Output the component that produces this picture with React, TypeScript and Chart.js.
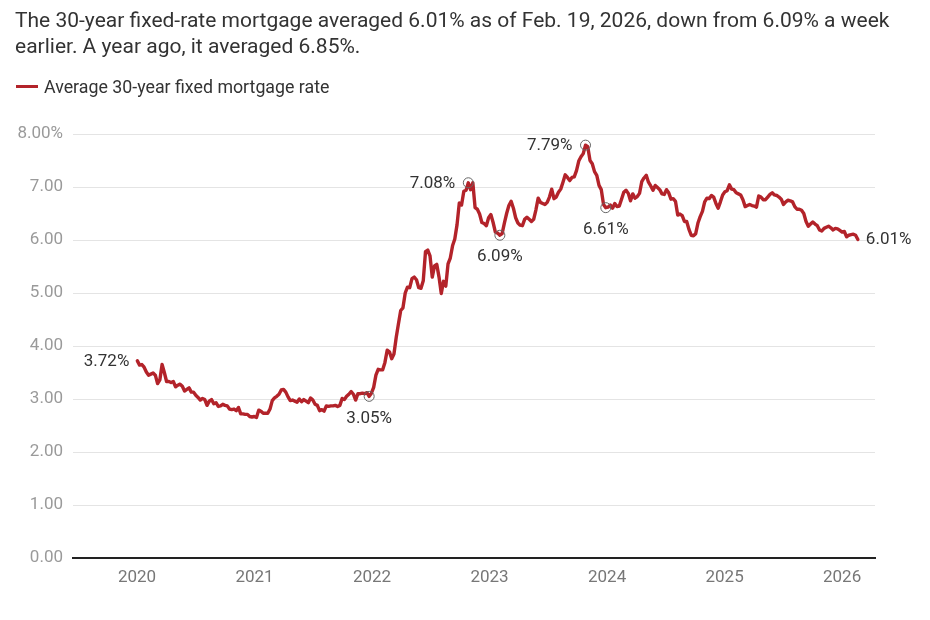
import React, { useEffect, useRef } from "react";
import { Chart, registerables } from "chart.js";

Chart.register(...registerables);

const TITLE_LINES = [
  "The 30-year fixed-rate mortgage averaged 6.01% as of Feb. 19, 2026, down from 6.09% a week",
  "earlier. A year ago, it averaged 6.85%.",
];
const SERIES_LABEL = "Average 30-year fixed mortgage rate";

// Weekly readings (Thursdays), first week = Jan 2, 2020
const FIRST_WEEK = "2020-01-02";
const RATES_2020 = [
  3.72, 3.64, 3.65, 3.6, 3.51, 3.45, 3.47, 3.49, 3.45, 3.29, 3.36, 3.65, 3.5,
  3.33, 3.33, 3.31, 3.33, 3.23, 3.26, 3.28, 3.24, 3.15, 3.18, 3.21, 3.13, 3.13,
  3.07, 3.03, 2.98, 3.01, 2.99, 2.88, 2.96, 2.99, 2.91, 2.93, 2.86, 2.87, 2.9,
  2.88, 2.87, 2.81, 2.8, 2.81, 2.78, 2.84, 2.72, 2.72, 2.71, 2.71, 2.67, 2.66, 2.67,
];
const RATES_2021 = [
  2.65, 2.79, 2.77, 2.73, 2.73, 2.73, 2.81, 2.97, 3.02, 3.05, 3.09, 3.17, 3.18,
  3.13, 3.04, 2.97, 2.98, 2.96, 2.94, 3.0, 2.95, 2.99, 2.96, 2.93, 3.02, 2.98,
  2.9, 2.88, 2.78, 2.8, 2.77, 2.87, 2.86, 2.87, 2.87, 2.88, 2.86, 2.88, 3.01,
  2.99, 3.05, 3.09, 3.14, 3.09, 2.98, 3.1, 3.1, 3.11, 3.1, 3.12, 3.05, 3.11,
];
const RATES_2022 = [
  3.22, 3.45, 3.56, 3.55, 3.55, 3.69, 3.92, 3.89, 3.76, 3.85, 4.16, 4.42, 4.67,
  4.72, 5.0, 5.11, 5.1, 5.27, 5.3, 5.25, 5.1, 5.09, 5.23, 5.78, 5.81, 5.7,
  5.3, 5.51, 5.54, 5.3, 4.99, 5.22, 5.13, 5.55, 5.66, 5.89, 6.02, 6.29, 6.7,
  6.66, 6.92, 6.94, 7.08, 6.95, 7.08, 6.61, 6.58, 6.49, 6.33, 6.31, 6.27, 6.42,
];
const RATES_2023 = [
  6.48, 6.33, 6.15, 6.13, 6.09, 6.12, 6.32, 6.5, 6.65, 6.73, 6.6, 6.42, 6.32,
  6.28, 6.27, 6.39, 6.43, 6.39, 6.35, 6.39, 6.57, 6.79, 6.71, 6.69, 6.67, 6.71,
  6.81, 6.96, 6.78, 6.81, 6.9, 6.96, 7.09, 7.23, 7.18, 7.12, 7.18, 7.19, 7.31,
  7.49, 7.57, 7.63, 7.79, 7.76, 7.5, 7.44, 7.29, 7.22, 7.03, 6.95, 6.67, 6.61,
];
const RATES_2024 = [
  6.62, 6.66, 6.6, 6.69, 6.63, 6.64, 6.77, 6.9, 6.94, 6.88, 6.74, 6.87, 6.79,
  6.82, 6.88, 7.1, 7.17, 7.22, 7.09, 7.02, 6.94, 7.03, 6.99, 6.95, 6.87, 6.86,
  6.95, 6.89, 6.77, 6.78, 6.73, 6.47, 6.49, 6.46, 6.35, 6.35, 6.2, 6.09, 6.08,
  6.12, 6.32, 6.44, 6.54, 6.72, 6.79, 6.78, 6.84, 6.81, 6.69, 6.6, 6.72, 6.85,
];
const RATES_2025 = [
  6.91, 6.93, 7.04, 6.96, 6.95, 6.89, 6.87, 6.85, 6.76, 6.63, 6.65, 6.67, 6.65,
  6.64, 6.62, 6.83, 6.81, 6.76, 6.76, 6.81, 6.86, 6.89, 6.85, 6.84, 6.81, 6.77,
  6.67, 6.72, 6.75, 6.74, 6.72, 6.63, 6.58, 6.58, 6.56, 6.5, 6.35, 6.26, 6.3,
  6.34, 6.3, 6.27, 6.19, 6.17, 6.22, 6.24, 6.26, 6.23, 6.19, 6.22, 6.21, 6.18,
];
const RATES_2026 = [6.15, 6.16, 6.06, 6.09, 6.1, 6.11, 6.09, 6.01];

const YEAR_TICKS = [2020, 2021, 2022, 2023, 2024, 2025, 2026];
const Y_TICKS = [0, 1, 2, 3, 4, 5, 6, 7, 8];

const ANNOTATIONS = [
  { date: "2020-01-02", text: "3.72%", place: "left", circle: false },
  { date: "2021-12-23", text: "3.05%", place: "below", circle: true },
  { date: "2022-10-27", text: "7.08%", place: "left", circle: true },
  { date: "2023-02-02", text: "6.09%", place: "below", circle: true },
  { date: "2023-10-26", text: "7.79%", place: "left", circle: true },
  { date: "2023-12-28", text: "6.61%", place: "below", circle: true },
  { date: "2026-02-19", text: "6.01%", place: "right", circle: false },
];

const LINE_COLOR = "#b3232a";
const FONT = "Roboto, 'Noto Sans', sans-serif";

function buildSeries() {
  const rates = [
    ...RATES_2020,
    ...RATES_2021,
    ...RATES_2022,
    ...RATES_2023,
    ...RATES_2024,
    ...RATES_2025,
    ...RATES_2026,
  ];
  const start = Date.parse(FIRST_WEEK + "T00:00:00Z");
  const dates: string[] = [];
  const points = rates.map((r, i) => {
    const d = new Date(start + i * 7 * 86400000);
    const y = d.getUTCFullYear();
    const y0 = Date.UTC(y, 0, 1);
    const y1 = Date.UTC(y + 1, 0, 1);
    dates.push(d.toISOString().slice(0, 10));
    return { x: y + (d.getTime() - y0) / (y1 - y0), y: r };
  });
  return { points, dates };
}

export default function App() {
  const canvasRef = useRef<HTMLCanvasElement | null>(null);

  useEffect(() => {
    const canvas = canvasRef.current;
    if (!canvas) return;
    const { points, dates } = buildSeries();
    const annIdx = ANNOTATIONS.map((a) => ({ ...a, idx: dates.indexOf(a.date) }));
    const circleSet = new Set(annIdx.filter((a) => a.circle).map((a) => a.idx));

    const labelPlugin = {
      id: "pointLabels",
      afterDatasetsDraw(chart: any) {
        const meta = chart.getDatasetMeta(0);
        const ctx = chart.ctx;
        ctx.save();
        ctx.font = `17px ${FONT}`;
        ctx.fillStyle = "#333";
        annIdx.forEach((a) => {
          const el = meta.data[a.idx];
          if (!el) return;
          const px = el.x;
          const py = el.y;
          if (a.place === "left") {
            ctx.textAlign = "right";
            ctx.textBaseline = "middle";
            ctx.fillText(a.text, px - (a.circle ? 13 : 8), py + 1);
          } else if (a.place === "right") {
            ctx.textAlign = "left";
            ctx.textBaseline = "middle";
            ctx.fillText(a.text, px + 8, py);
          } else {
            ctx.textAlign = "center";
            ctx.textBaseline = "middle";
            ctx.fillText(a.text, px, py + 22);
          }
        });
        ctx.restore();
      },
    };

    const chart = new Chart(canvas, {
      type: "line",
      data: {
        datasets: [
          {
            label: SERIES_LABEL,
            data: points,
            borderColor: LINE_COLOR,
            borderWidth: 3.4,
            tension: 0,
            borderJoinStyle: "round",
            borderCapStyle: "round",
            fill: false,
            pointRadius: (c: any) => (circleSet.has(c.dataIndex) ? 5 : 0),
            pointHoverRadius: 0,
            pointBorderColor: "#666",
            pointBorderWidth: 1,
            pointBackgroundColor: "rgba(0,0,0,0)",
          },
        ],
      },
      options: {
        animation: false,
        responsive: false,
        events: [],
        layout: { padding: { top: 134, right: 55, bottom: 22, left: 0 } },
        plugins: {
          legend: { display: false },
          tooltip: { enabled: false },
          title: { display: false },
        },
        scales: {
          x: {
            type: "linear",
            min: 2019.455,
            max: 2026.28,
            afterFit: (s: any) => {
              s.height = 40;
            },
            afterBuildTicks: (axis: any) => {
              axis.ticks = YEAR_TICKS.map((v) => ({ value: v }));
            },
            ticks: {
              callback: (v: any) => String(v),
              color: "#777",
              font: { family: FONT, size: 17 },
              padding: 10,
              maxRotation: 0,
              autoSkip: false,
            },
            grid: { display: false, drawTicks: false },
            border: { display: true, color: "#222", width: 2 },
          },
          y: {
            type: "linear",
            min: 0,
            max: 8,
            afterFit: (s: any) => {
              s.width = 73;
            },
            afterBuildTicks: (axis: any) => {
              axis.ticks = Y_TICKS.map((v) => ({ value: v }));
            },
            ticks: {
              callback: (v: any) => (v === 8 ? "8.00%" : Number(v).toFixed(2)),
              color: "#9a9a9a",
              font: { family: FONT, size: 17 },
              padding: 10,
            },
            grid: {
              drawTicks: false,
              color: (c: any) => (c.tick && c.tick.value === 0 ? "rgba(0,0,0,0)" : "#e4e4e4"),
              lineWidth: 1,
            },
            border: { display: false },
          },
        },
      },
      plugins: [labelPlugin],
    } as any);

    return () => chart.destroy();
  }, []);

  return (
    <div
      style={{
        position: "absolute",
        left: 0,
        top: 0,
        width: 930,
        height: 620,
        background: "#fff",
        fontFamily: FONT,
        overflow: "hidden",
      }}
    >
      <canvas
        ref={canvasRef}
        width={930}
        height={620}
        style={{ position: "absolute", left: 0, top: 0, width: 930, height: 620 }}
      />
      <div
        style={{
          position: "absolute",
          left: 15,
          top: 7,
          fontSize: 21,
          lineHeight: "26px",
          color: "#333",
          whiteSpace: "nowrap",
        }}
      >
        {TITLE_LINES.map((t, i) => (
          <div key={i}>{t}</div>
        ))}
      </div>
      <div
        style={{
          position: "absolute",
          left: 16,
          top: 75,
          height: 22,
          display: "flex",
          alignItems: "center",
          fontSize: 17.8,
          color: "#333",
          whiteSpace: "nowrap",
        }}
      >
        <span
          style={{
            display: "inline-block",
            width: 22,
            height: 3,
            background: LINE_COLOR,
            marginRight: 6,
          }}
        />
        <span>{SERIES_LABEL}</span>
      </div>
    </div>
  );
}
